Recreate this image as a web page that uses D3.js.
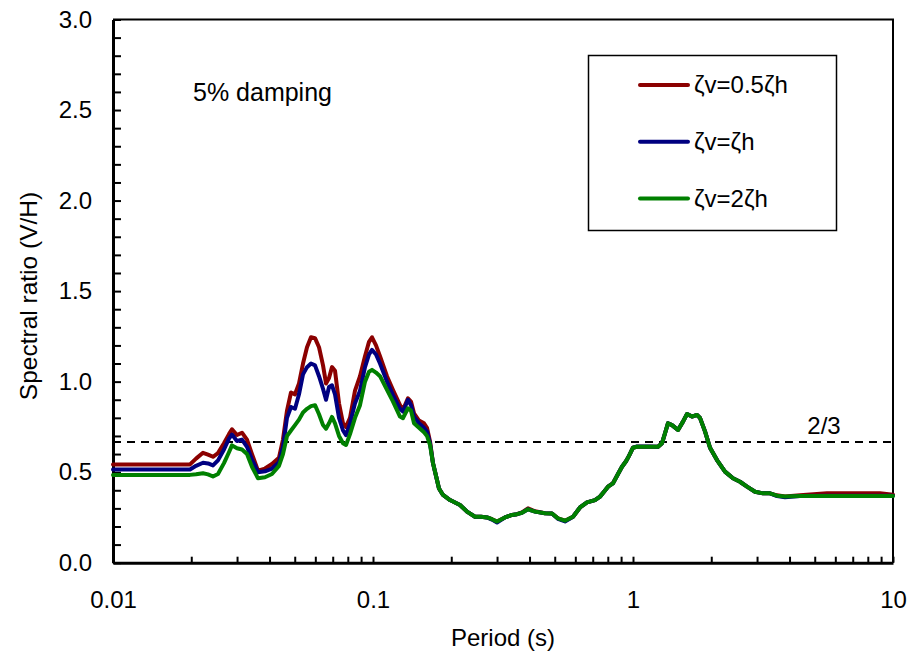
<!DOCTYPE html>
<html>
<head>
<meta charset="utf-8">
<script src="https://cdn.jsdelivr.net/npm/d3@7"></script>
<style>
  html, body { margin: 0; padding: 0; background: #fff; }
  svg { display: block; font-family: "Liberation Sans", Arial, sans-serif; }
</style>
</head>
<body>
<svg id="chart" width="912" height="657"></svg>
<script>
// Natural period (s)
const periods = [
  0.01, 0.01978, 0.02086, 0.02219, 0.0232, 0.02424, 0.02534, 0.02672, 0.02793, 0.02868,
  0.02998, 0.03134, 0.03276, 0.03424, 0.03611, 0.03842, 0.04088, 0.04349, 0.04506, 0.04669,
  0.04837, 0.05012, 0.05193, 0.0538, 0.05574, 0.05775, 0.05984, 0.062, 0.06424, 0.06596,
  0.06774, 0.06956, 0.07143, 0.07401, 0.07668, 0.07874, 0.08158, 0.08527, 0.08913, 0.09316,
  0.09652, 0.09912, 0.1027, 0.1064, 0.1132, 0.1194, 0.127, 0.1304, 0.1363, 0.14,
  0.1438, 0.1503, 0.1571, 0.1613, 0.1657, 0.1701, 0.1747, 0.1794, 0.1859, 0.1978,
  0.2161, 0.2299, 0.2468, 0.2603, 0.2745, 0.2869, 0.2999, 0.3219, 0.3424, 0.3579,
  0.3741, 0.3946, 0.42, 0.4587, 0.488, 0.5146, 0.5475, 0.5878, 0.6254, 0.6654,
  0.7143, 0.7466, 0.7735, 0.8014, 0.8377, 0.8756, 0.9071, 0.94, 0.9652, 1.0,
  1.036, 1.163, 1.248, 1.293, 1.328, 1.363, 1.413, 1.49, 1.557, 1.614,
  1.686, 1.763, 1.81, 1.892, 1.978, 2.104, 2.259, 2.424, 2.579, 2.745,
  2.947, 3.162, 3.364, 3.579, 3.842, 4.388, 5.574, 8.913, 10
];

// V/H spectral ratio, zeta_v = 0.5 zeta_h
const ratioHalf = [
  0.543, 0.543, 0.575, 0.607, 0.597, 0.585, 0.605, 0.66, 0.71, 0.737,
  0.705, 0.718, 0.68, 0.60, 0.508, 0.52, 0.545, 0.58, 0.68, 0.84,
  0.94, 0.93, 0.99, 1.10, 1.19, 1.245, 1.24, 1.19, 1.09, 0.99,
  1.02, 1.08, 1.06, 0.88, 0.77, 0.75, 0.80, 0.95, 1.03, 1.14,
  1.22, 1.245, 1.20, 1.14, 1.03, 0.954, 0.87, 0.844, 0.908, 0.89,
  0.825, 0.785, 0.77, 0.745, 0.67, 0.55, 0.48, 0.41, 0.374, 0.346,
  0.319, 0.282, 0.254, 0.254, 0.25, 0.24, 0.227, 0.25, 0.264, 0.268,
  0.278, 0.30, 0.284, 0.273, 0.272, 0.245, 0.232, 0.254, 0.305, 0.333,
  0.346, 0.365, 0.392, 0.42, 0.44, 0.49, 0.53, 0.56, 0.59, 0.635,
  0.64, 0.64, 0.64, 0.66, 0.715, 0.77, 0.76, 0.733, 0.779, 0.821,
  0.807, 0.816, 0.80, 0.725, 0.635, 0.567, 0.503, 0.466, 0.447, 0.42,
  0.392, 0.383, 0.383, 0.372, 0.366, 0.372, 0.383, 0.383, 0.376
];

// V/H spectral ratio, zeta_v = zeta_h
const ratioEqual = [
  0.515, 0.515, 0.535, 0.552, 0.548, 0.537, 0.565, 0.625, 0.685, 0.708,
  0.672, 0.68, 0.64, 0.57, 0.50, 0.505, 0.52, 0.555, 0.64, 0.80,
  0.86, 0.85, 0.93, 1.04, 1.08, 1.10, 1.09, 1.03, 0.96, 0.90,
  0.97, 0.98, 0.93, 0.80, 0.73, 0.705, 0.77, 0.88, 0.95, 1.08,
  1.15, 1.175, 1.15, 1.10, 1.00, 0.926, 0.85, 0.834, 0.90, 0.87,
  0.807, 0.77, 0.745, 0.725, 0.66, 0.55, 0.48, 0.41, 0.374, 0.346,
  0.319, 0.282, 0.254, 0.254, 0.25, 0.238, 0.222, 0.25, 0.264, 0.268,
  0.276, 0.295, 0.282, 0.273, 0.272, 0.242, 0.228, 0.254, 0.305, 0.333,
  0.346, 0.365, 0.392, 0.42, 0.438, 0.49, 0.53, 0.56, 0.59, 0.635,
  0.642, 0.642, 0.64, 0.66, 0.715, 0.77, 0.76, 0.733, 0.779, 0.821,
  0.807, 0.816, 0.80, 0.725, 0.635, 0.567, 0.503, 0.466, 0.447, 0.42,
  0.392, 0.383, 0.383, 0.368, 0.362, 0.368, 0.37, 0.37, 0.37
];

// V/H spectral ratio, zeta_v = 2 zeta_h
const ratioDouble = [
  0.485, 0.485, 0.488, 0.494, 0.488, 0.476, 0.49, 0.55, 0.61, 0.648,
  0.632, 0.625, 0.60, 0.53, 0.466, 0.472, 0.49, 0.535, 0.60, 0.70,
  0.73, 0.76, 0.79, 0.83, 0.85, 0.865, 0.87, 0.82, 0.76, 0.74,
  0.77, 0.805, 0.77, 0.70, 0.66, 0.65, 0.71, 0.80, 0.87, 1.00,
  1.055, 1.065, 1.05, 1.03, 0.954, 0.89, 0.807, 0.798, 0.853, 0.84,
  0.77, 0.745, 0.72, 0.70, 0.65, 0.55, 0.48, 0.41, 0.374, 0.346,
  0.319, 0.282, 0.254, 0.254, 0.25, 0.24, 0.227, 0.25, 0.264, 0.268,
  0.276, 0.295, 0.282, 0.273, 0.272, 0.245, 0.232, 0.254, 0.305, 0.333,
  0.346, 0.365, 0.392, 0.42, 0.438, 0.49, 0.53, 0.56, 0.59, 0.635,
  0.64, 0.64, 0.64, 0.66, 0.715, 0.77, 0.76, 0.733, 0.779, 0.821,
  0.807, 0.816, 0.80, 0.725, 0.635, 0.567, 0.503, 0.466, 0.447, 0.42,
  0.392, 0.383, 0.383, 0.37, 0.365, 0.368, 0.368, 0.368, 0.368
];

const seriesNames = ["ζv=0.5ζh", "ζv=ζh", "ζv=2ζh"];
const seriesColors = ["#8b0000", "#000080", "#008000"];
const seriesValues = [ratioHalf, ratioEqual, ratioDouble];

const xTickLabels = ["0.01", "0.1", "1", "10"];
const xMajorTicks = [0.01, 0.1, 1, 10];
const yTickLabels = ["0.0", "0.5", "1.0", "1.5", "2.0", "2.5", "3.0"];
const yMajorTicks = [0, 0.5, 1.0, 1.5, 2.0, 2.5, 3.0];

const referenceLevel = 2 / 3;
const referenceLabel = "2/3";
const dampingNote = "5% damping";
const xTitle = "Period (s)";
const yTitle = "Spectral ratio (V/H)";

// ---- layout ----
const plot = { left: 113, right: 893, top: 19.5, bottom: 562.7 };
const svg = d3.select("#chart");

const x = d3.scaleLog().domain([0.01, 10]).range([plot.left, plot.right]);
const y = d3.scaleLinear().domain([0, 3]).range([plot.bottom, plot.top]);

// minor ticks: 1..9 within each decade, 0.1 steps on the ratio axis
const xAllTicks = [];
[0.01, 0.1, 1].forEach(d => { for (let k = 1; k <= 9; k++) xAllTicks.push(+(d * k).toPrecision(3)); });
xAllTicks.push(10);
const yAllTicks = d3.range(0, 31).map(i => +(i / 10).toFixed(1));

const fmtX = d => { const i = xMajorTicks.indexOf(d); return i >= 0 ? xTickLabels[i] : ""; };
const fmtY = d => { const i = yMajorTicks.findIndex(v => Math.abs(v - d) < 1e-9); return i >= 0 ? yTickLabels[i] : ""; };

// frame top and right
svg.append("path")
  .attr("d", `M${plot.left},${plot.top}H${plot.right}V${plot.bottom}`)
  .attr("fill", "none").attr("stroke", "#000").attr("stroke-width", 2);

// x axis
const gx = svg.append("g")
  .attr("transform", `translate(0,${plot.bottom})`)
  .call(d3.axisBottom(x).tickValues(xAllTicks).tickFormat(fmtX)
    .tickSizeInner(-6).tickSizeOuter(0).tickPadding(28));
gx.select(".domain").attr("stroke-width", 3);
gx.selectAll(".tick line").attr("stroke-width", 2);
gx.selectAll(".tick text").attr("font-size", 24).attr("fill", "#000")
  .attr("font-family", "Liberation Sans, Arial, sans-serif");

// y axis
const gy = svg.append("g")
  .attr("transform", `translate(${plot.left},0)`)
  .call(d3.axisLeft(y).tickValues(yAllTicks).tickFormat(fmtY)
    .tickSizeInner(-8).tickSizeOuter(0).tickPadding(21));
gy.select(".domain").attr("stroke-width", 3);
gy.selectAll(".tick line").attr("stroke-width", 2);
gy.selectAll(".tick text").attr("font-size", 24).attr("fill", "#000")
  .attr("font-family", "Liberation Sans, Arial, sans-serif");

// axis titles
svg.append("text")
  .attr("x", (plot.left + plot.right) / 2).attr("y", 646)
  .attr("text-anchor", "middle").attr("font-size", 24).text(xTitle);
svg.append("text")
  .attr("transform", `translate(37,296) rotate(-90)`)
  .attr("text-anchor", "middle").attr("font-size", 24.5).text(yTitle);

// 2/3 reference line
svg.append("line")
  .attr("x1", plot.left).attr("x2", plot.right)
  .attr("y1", y(referenceLevel)).attr("y2", y(referenceLevel))
  .attr("stroke", "#000").attr("stroke-width", 2).attr("stroke-dasharray", "8,6");
svg.append("text")
  .attr("x", 824).attr("y", y(referenceLevel) - 8)
  .attr("text-anchor", "middle").attr("font-size", 24).text(referenceLabel);

// spectral ratio curves (strongest damping drawn last)
const line = d3.line().x(d => x(d[0])).y(d => y(d[1])).curve(d3.curveLinear);
seriesValues.forEach((vals, i) => {
  svg.append("path")
    .datum(periods.map((p, j) => [p, vals[j]]))
    .attr("d", line)
    .attr("fill", "none")
    .attr("stroke", seriesColors[i])
    .attr("stroke-width", 4)
    .attr("stroke-linejoin", "round")
    .attr("stroke-linecap", "round");
});

// annotation
svg.append("text")
  .attr("x", 193).attr("y", 101).attr("font-size", 25).text(dampingNote);

// legend
const legend = svg.append("g");
legend.append("rect")
  .attr("x", 588.5).attr("y", 55.5).attr("width", 248).attr("height", 175)
  .attr("fill", "#fff").attr("stroke", "#000").attr("stroke-width", 1.5);
seriesNames.forEach((name, i) => {
  const cy = 85 + i * 56.7;
  legend.append("line")
    .attr("x1", 640).attr("x2", 688).attr("y1", cy).attr("y2", cy)
    .attr("stroke", seriesColors[i]).attr("stroke-width", 4).attr("stroke-linecap", "round");
  legend.append("text")
    .attr("x", 694).attr("y", cy).attr("dy", "0.35em")
    .attr("font-size", 24).text(name);
});
</script>
</body>
</html>
